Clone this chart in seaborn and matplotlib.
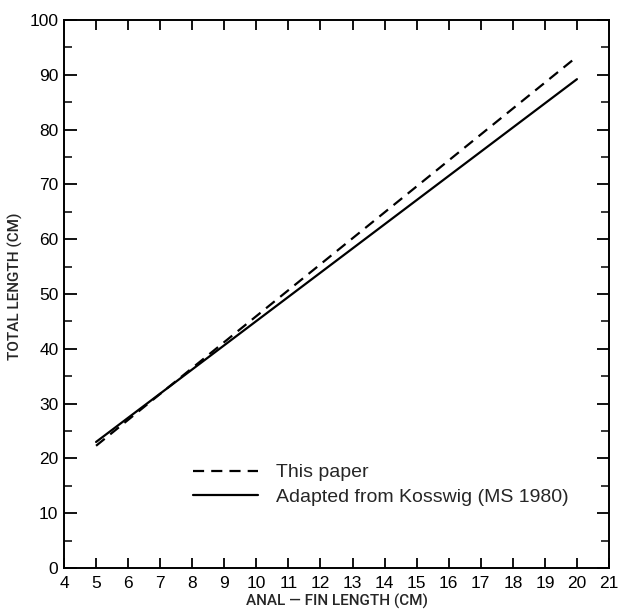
import matplotlib
matplotlib.use("Agg")
import matplotlib.pyplot as plt
import seaborn as sns
import pandas as pd
from matplotlib.ticker import MultipleLocator

# Data
x_this = [5, 20]
y_this = [22.3, 93.3]
x_koss = [5, 20]
y_koss = [23.0, 89.2]
series_names = ["This paper", "Adapted from Kosswig (MS 1980)"]

df = pd.concat([
    pd.DataFrame({"x": x_this, "y": y_this, "series": series_names[0]}),
    pd.DataFrame({"x": x_koss, "y": y_koss, "series": series_names[1]}),
])

sns.set_theme(style="ticks")
plt.rcParams['font.family'] = ['Liberation Sans', 'DejaVu Sans']

fig = plt.figure(figsize=(6.19, 6.13), dpi=100)
ax = fig.add_axes([64/619, 1 - 568/613, 545/619, 548/613])

sns.lineplot(data=df, x="x", y="y", style="series", style_order=series_names,
             dashes={series_names[0]: (5, 3.2), series_names[1]: ""},
             color="black", linewidth=1.6, ax=ax, legend=True)

ax.set_xlim(4, 21)
ax.set_ylim(0, 100)
ax.xaxis.set_major_locator(MultipleLocator(1))
ax.yaxis.set_major_locator(MultipleLocator(10))
ax.yaxis.set_minor_locator(MultipleLocator(5))
ax.tick_params(axis="x", which="major", direction="in", length=7, width=1.3,
               top=True, bottom=True, labelsize=12.5, pad=6, colors="black")
ax.tick_params(axis="y", which="major", direction="in", length=9, width=1.3,
               left=True, right=True, labelsize=12.5, pad=4, colors="black")
ax.tick_params(axis="y", which="minor", direction="in", length=6, width=1.3,
               left=True, right=True)
for s in ax.spines.values():
    s.set_linewidth(1.4)
    s.set_color("black")
    s.set_visible(True)

label_font = dict(family=['Roboto', 'Liberation Sans', 'DejaVu Sans'],
                  fontweight='medium', fontsize=11)
ax.set_xlabel("ANAL — FIN LENGTH (CM)", labelpad=2, **label_font)
ax.set_ylabel("TOTAL LENGTH (CM)", labelpad=7, **label_font)
ax.yaxis.set_label_coords(-0.075, 0.515)

leg = ax.legend(loc="upper left", bbox_to_anchor=(0.205, 0.222), frameon=False,
                fontsize=14, handlelength=3.35, handletextpad=0.93,
                labelspacing=0.35, title=None)

fig.savefig("out.png", dpi=100)
